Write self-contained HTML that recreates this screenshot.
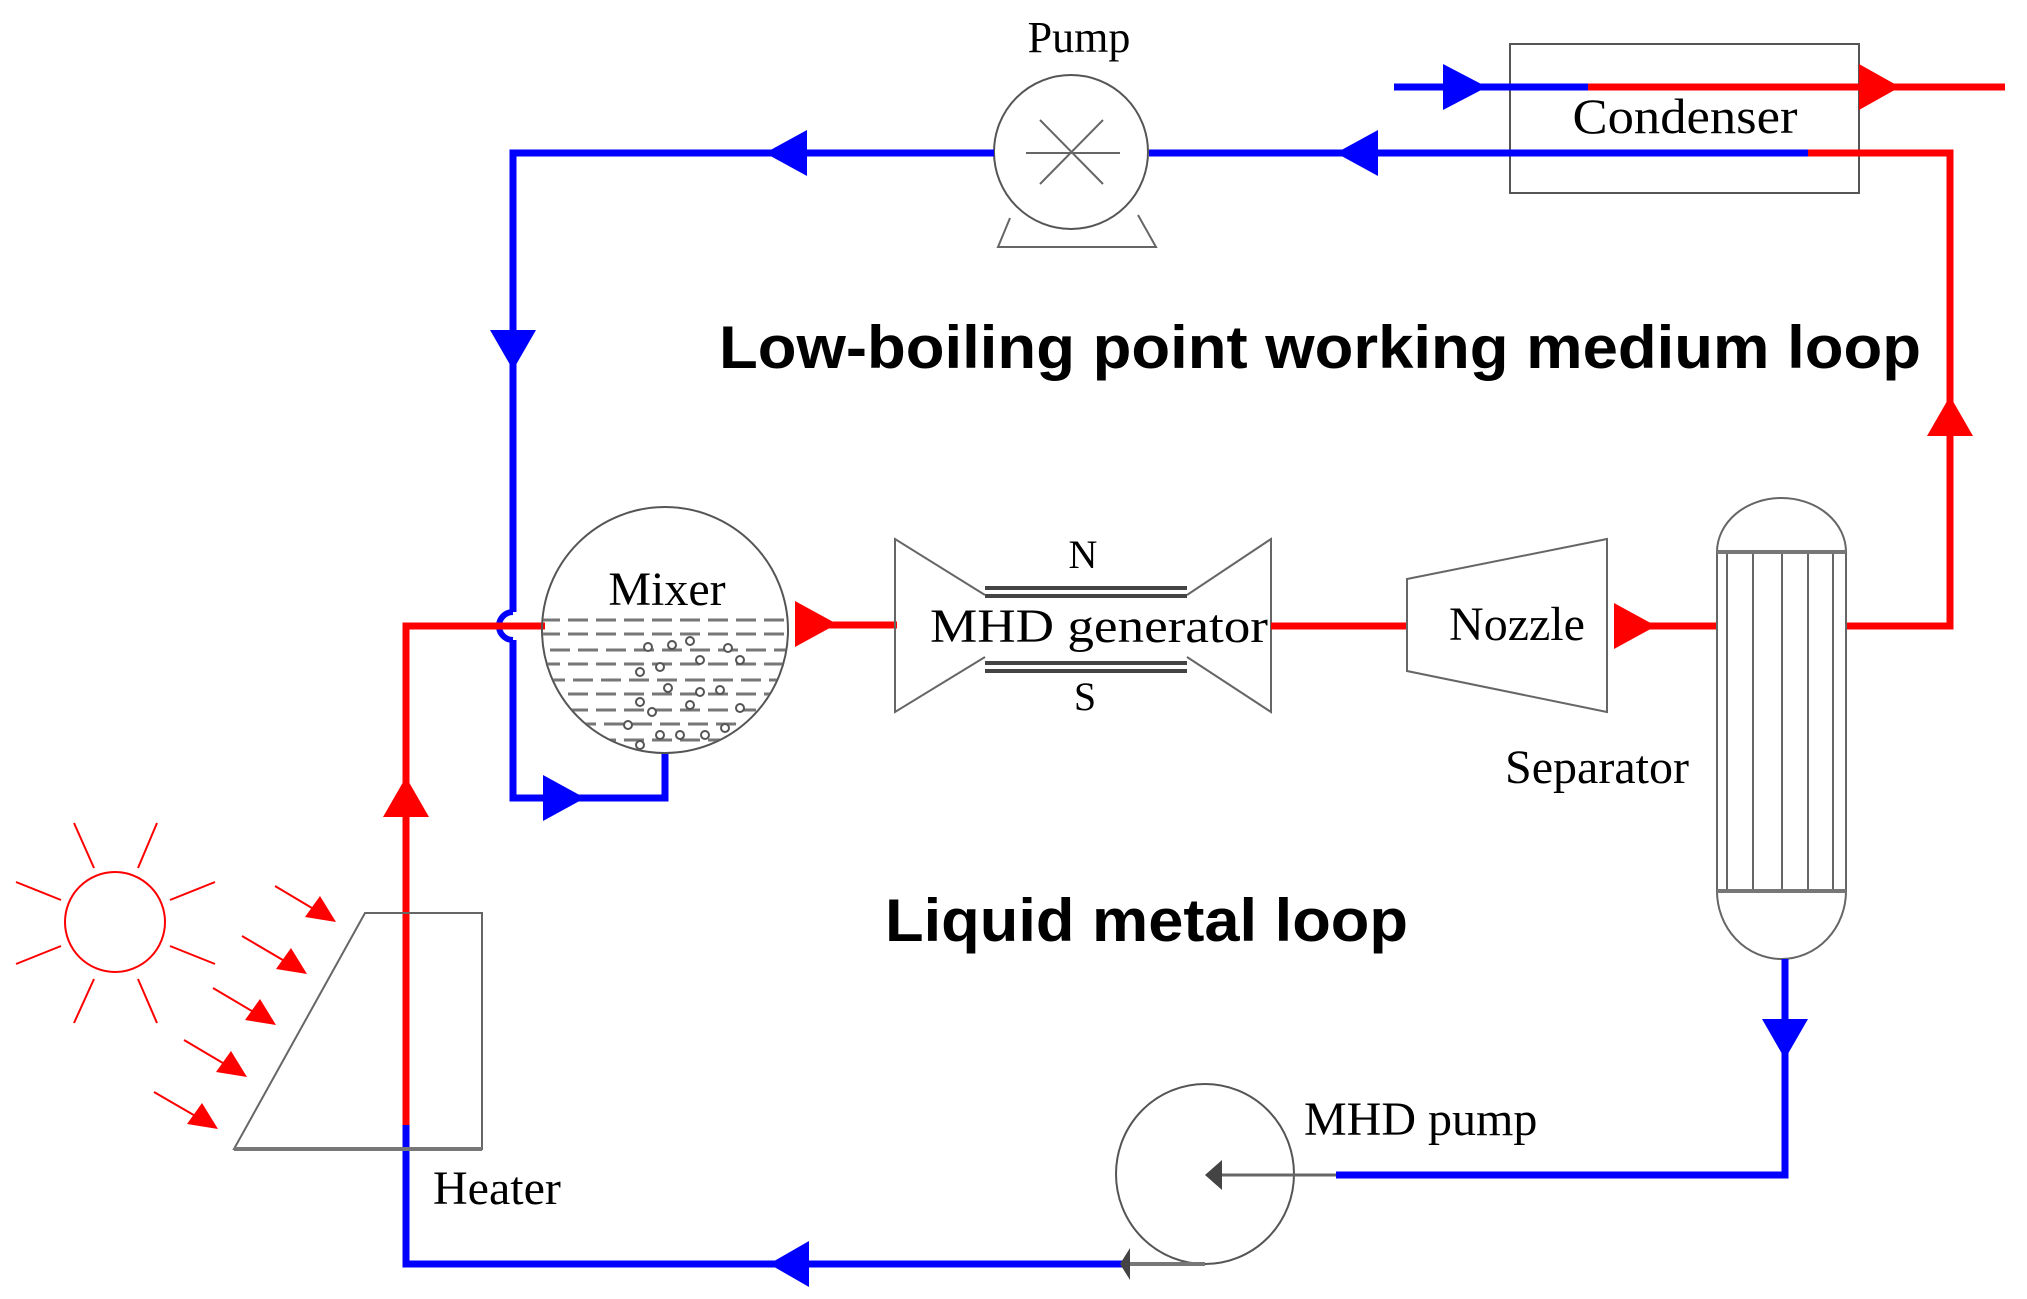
<!DOCTYPE html>
<html><head><meta charset="utf-8"><style>html,body{margin:0;padding:0;background:#fff}svg{display:block}</style></head><body>
<svg width="2027" height="1299" viewBox="0 0 2027 1299" xmlns="http://www.w3.org/2000/svg" font-family="Liberation Serif, serif">
<defs><clipPath id="mc"><circle cx="665" cy="630" r="122"/></clipPath></defs>
<!-- Pump -->
<path d="M1010 218 L998 247 L1156 247 L1138 215" fill="none" stroke="#666" stroke-width="2"/>
<circle cx="1071" cy="152" r="77" fill="#fff" stroke="#555" stroke-width="2"/>
<g stroke="#666" stroke-width="2"><line x1="1026" y1="153" x2="1120" y2="153"/><line x1="1040" y1="120" x2="1103" y2="184"/><line x1="1103" y1="120" x2="1040" y2="184"/></g>
<text x="1079" y="52" font-size="44" text-anchor="middle">Pump</text>
<!-- Condenser -->
<rect x="1510" y="44" width="349" height="149" fill="none" stroke="#555" stroke-width="2"/>
<text x="1685" y="133" font-size="50" text-anchor="middle" textLength="225" lengthAdjust="spacingAndGlyphs">Condenser</text>
<line x1="1394" y1="87" x2="1590" y2="87" stroke="#00f" stroke-width="7"/>
<line x1="1588" y1="87" x2="2005" y2="87" stroke="#f00" stroke-width="7"/>
<polygon points="1443,64 1487,87 1443,110" fill="#00f"/>
<polygon points="1859,64 1900,87 1859,110" fill="#f00"/>
<line x1="1149" y1="153" x2="1810" y2="153" stroke="#00f" stroke-width="7"/>
<polyline points="1808,153 1950,153 1950,626 1846,626" fill="none" stroke="#f00" stroke-width="7"/>
<polygon points="1336,153 1378,130 1378,176" fill="#00f"/>
<polygon points="1950,396 1927,436 1973,436" fill="#f00"/>
<!-- top left blue loop -->
<polyline points="994,153 513,153 513,612" fill="none" stroke="#00f" stroke-width="7"/>
<path d="M513 612 A14 14 0 0 0 513 640" fill="none" stroke="#00f" stroke-width="6"/>
<polyline points="513,640 513,798 665,798 665,752" fill="none" stroke="#00f" stroke-width="7"/>
<polygon points="765,153 807,130 807,176" fill="#00f"/>
<polygon points="490,330 536,330 513,370" fill="#00f"/>
<polygon points="543,775 585,798 543,821" fill="#00f"/>
<!-- red heater line -->
<polyline points="406,1127 406,626 545,626" fill="none" stroke="#f00" stroke-width="7"/>
<polygon points="406,777 383,817 429,817" fill="#f00"/>
<polyline points="406,1125 406,1264 1128,1264" fill="none" stroke="#00f" stroke-width="7"/>
<polygon points="769,1264 809,1241 809,1287" fill="#00f"/>
<!-- Mixer -->
<g clip-path="url(#mc)" stroke="#777" stroke-width="3" stroke-dasharray="20,8" fill="none">
<line x1="540" y1="620" x2="790" y2="620"/><line x1="540" y1="634" x2="790" y2="634"/><line x1="550" y1="650" x2="790" y2="650"/><line x1="540" y1="664" x2="790" y2="664"/><line x1="545" y1="680" x2="790" y2="680"/><line x1="540" y1="694" x2="790" y2="694"/><line x1="540" y1="710" x2="790" y2="710"/><line x1="548" y1="724" x2="790" y2="724"/><line x1="540" y1="740" x2="790" y2="740"/>
</g>
<g clip-path="url(#mc)" stroke="#555" stroke-width="2" fill="#fff">
<circle cx="648" cy="647" r="4"/><circle cx="672" cy="645" r="4"/><circle cx="690" cy="641" r="4"/><circle cx="728" cy="648" r="4"/><circle cx="640" cy="672" r="4"/><circle cx="660" cy="667" r="4"/><circle cx="700" cy="660" r="4"/><circle cx="740" cy="660" r="4"/><circle cx="640" cy="702" r="4"/><circle cx="668" cy="688" r="4"/><circle cx="700" cy="692" r="4"/><circle cx="720" cy="690" r="4"/><circle cx="652" cy="712" r="4"/><circle cx="690" cy="705" r="4"/><circle cx="740" cy="708" r="4"/><circle cx="628" cy="725" r="4"/><circle cx="660" cy="735" r="4"/><circle cx="680" cy="735" r="4"/><circle cx="705" cy="735" r="4"/><circle cx="725" cy="728" r="4"/><circle cx="640" cy="745" r="4"/>
</g>
<circle cx="665" cy="630" r="123" fill="none" stroke="#555" stroke-width="2"/>
<text x="667" y="605" font-size="48" text-anchor="middle">Mixer</text>
<polygon points="795,601 837,624 795,647" fill="#f00"/>
<line x1="800" y1="625" x2="897" y2="625" stroke="#f00" stroke-width="7"/>
<!-- MHD generator -->
<g stroke="#666" stroke-width="2" fill="none">
<polyline points="985,595 895,539 895,712 985,657"/>
<polyline points="1187,595 1271,539 1271,712 1187,657"/>
</g>
<g stroke="#444" stroke-width="4"><line x1="985" y1="588" x2="1187" y2="588"/><line x1="985" y1="596" x2="1187" y2="596"/><line x1="985" y1="663" x2="1187" y2="663"/><line x1="985" y1="671" x2="1187" y2="671"/></g>
<text x="1083" y="568" font-size="40" text-anchor="middle">N</text>
<text x="1085" y="710" font-size="40" text-anchor="middle">S</text>
<text x="1099" y="642" font-size="48" text-anchor="middle" textLength="338" lengthAdjust="spacingAndGlyphs">MHD generator</text>
<line x1="1271" y1="626" x2="1407" y2="626" stroke="#f00" stroke-width="7"/>
<!-- Nozzle -->
<polygon points="1407,579 1607,539 1607,712 1407,671" fill="none" stroke="#666" stroke-width="2"/>
<text x="1517" y="640" font-size="48" text-anchor="middle">Nozzle</text>
<polygon points="1614,603 1656,626 1614,649" fill="#f00"/>
<line x1="1618" y1="626" x2="1717" y2="626" stroke="#f00" stroke-width="7"/>
<!-- Separator -->
<g stroke="#666" stroke-width="2" fill="none">
<path d="M1717 552 A64.5 54 0 0 1 1846 552 L1846 891 A64.5 68 0 0 1 1717 891 Z"/>
<line x1="1727" y1="552" x2="1727" y2="891"/><line x1="1753" y1="552" x2="1753" y2="891"/><line x1="1782" y1="552" x2="1782" y2="891"/><line x1="1808" y1="552" x2="1808" y2="891"/><line x1="1833" y1="552" x2="1833" y2="891"/>
</g>
<line x1="1717" y1="552" x2="1846" y2="552" stroke="#777" stroke-width="4"/>
<line x1="1717" y1="891" x2="1846" y2="891" stroke="#777" stroke-width="4"/>
<text x="1597" y="783" font-size="48" text-anchor="middle">Separator</text>
<polyline points="1785,959 1785,1175 1336,1175" fill="none" stroke="#00f" stroke-width="7"/>
<polygon points="1762,1019 1808,1019 1785,1059" fill="#00f"/>
<!-- MHD pump -->
<ellipse cx="1205" cy="1174" rx="89" ry="90" fill="none" stroke="#555" stroke-width="2"/>
<line x1="1215" y1="1175" x2="1336" y2="1175" stroke="#666" stroke-width="3"/>
<polygon points="1205,1175 1222,1160 1222,1190" fill="#444"/>
<line x1="1130" y1="1264" x2="1205" y2="1264" stroke="#777" stroke-width="4"/>
<polygon points="1120,1264 1130,1248 1130,1280" fill="#444"/>
<text x="1304" y="1135" font-size="48">MHD pump</text>
<!-- Heater -->
<polygon points="365,913 482,913 482,1149 234,1149" fill="none" stroke="#666" stroke-width="2"/>
<line x1="234" y1="1149" x2="482" y2="1149" stroke="#777" stroke-width="4"/>
<text x="433" y="1204" font-size="48">Heater</text>
<!-- Sun -->
<g stroke="#f00" stroke-width="2" fill="none">
<circle cx="115" cy="922" r="50"/>
<line x1="74" y1="823" x2="94" y2="868"/><line x1="157" y1="823" x2="138" y2="868"/>
<line x1="16" y1="882" x2="61" y2="900"/><line x1="215" y1="882" x2="170" y2="900"/>
<line x1="16" y1="964" x2="61" y2="946"/><line x1="215" y1="964" x2="170" y2="946"/>
<line x1="74" y1="1023" x2="94" y2="979"/><line x1="157" y1="1023" x2="138" y2="979"/>
</g>
<g stroke="#f00" stroke-width="2">
<line x1="275" y1="886" x2="322" y2="914"/><line x1="242" y1="936" x2="293" y2="966"/><line x1="213" y1="988" x2="262" y2="1017"/><line x1="184" y1="1040" x2="233" y2="1069"/><line x1="154" y1="1092" x2="204" y2="1121"/>
</g>
<g fill="#f00">
<polygon points="336,922 305,917 320,896"/><polygon points="307,974 276,969 291,948"/><polygon points="276,1025 245,1020 260,999"/><polygon points="247,1077 216,1072 231,1051"/><polygon points="218,1129 187,1124 202,1103"/>
</g>
<!-- Titles -->
<text x="719" y="368" font-family="Liberation Sans, sans-serif" font-weight="bold" font-size="60" textLength="1202" lengthAdjust="spacingAndGlyphs">Low-boiling point working medium loop</text>
<text x="885" y="941" font-family="Liberation Sans, sans-serif" font-weight="bold" font-size="60" textLength="523" lengthAdjust="spacingAndGlyphs">Liquid metal loop</text>
</svg>
</body></html>
